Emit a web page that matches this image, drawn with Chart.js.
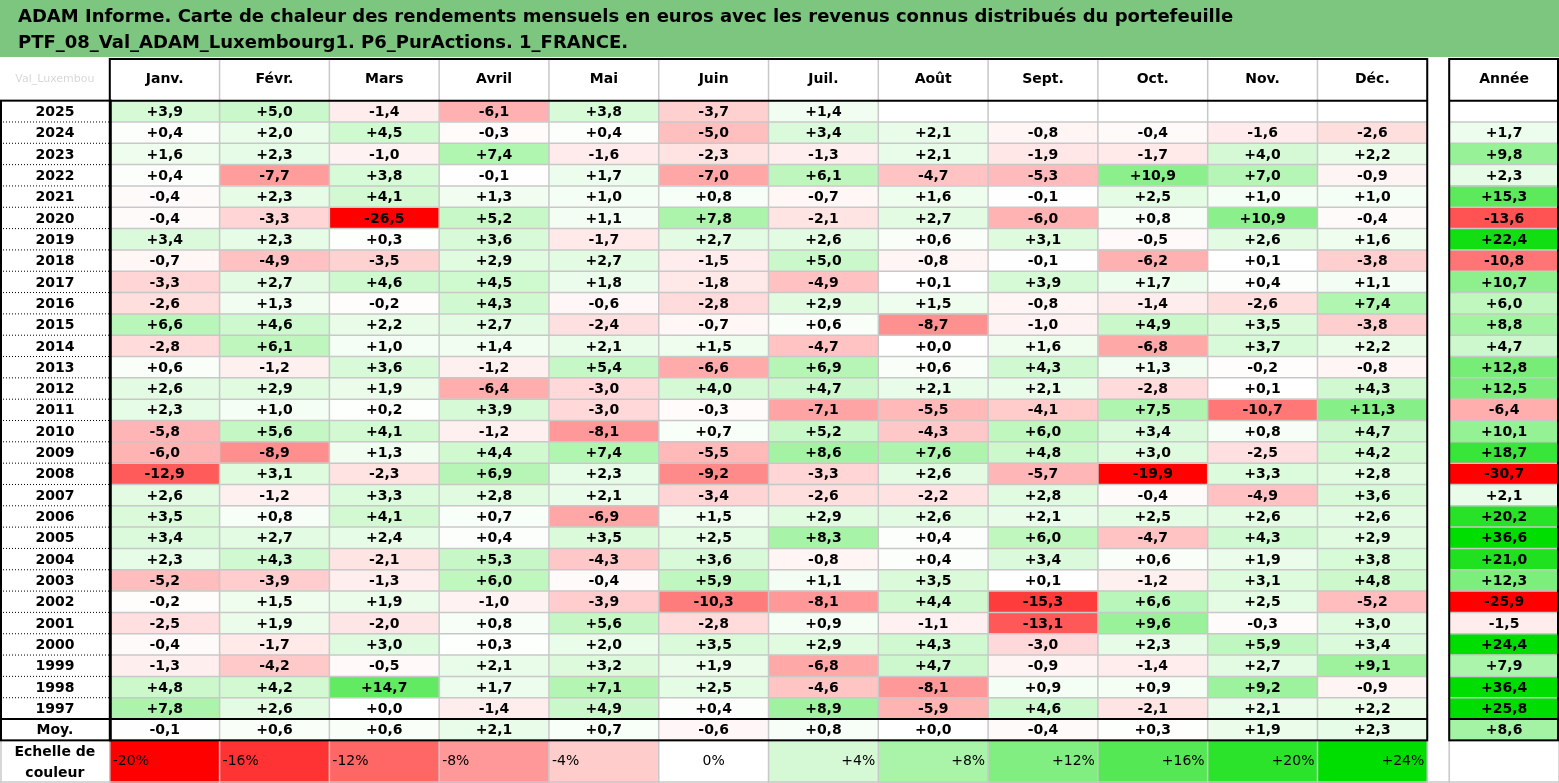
<!DOCTYPE html>
<html>
<head>
<meta charset="utf-8">
<script src="https://cdn.jsdelivr.net/npm/chart.js@4"></script>
<style>
  html, body { margin: 0; padding: 0; background: #fff; }
  #wrap { width: 1559px; height: 783px; position: relative; }
</style>
</head>
<body>
<div id="wrap"><canvas id="heat"></canvas></div>
<script>
const titleLines = [
  "ADAM Informe. Carte de chaleur des rendements mensuels en euros avec les revenus connus distribués du portefeuille",
  "PTF_08_Val_ADAM_Luxembourg1. P6_PurActions. 1_FRANCE."
];
const months = ["Janv.", "Févr.", "Mars", "Avril", "Mai", "Juin", "Juil.", "Août", "Sept.", "Oct.", "Nov.", "Déc."];
const years = ["2025","2024","2023","2022","2021","2020","2019","2018","2017","2016","2015","2014","2013","2012",
  "2011","2010","2009","2008","2007","2006","2005","2004","2003","2002","2001","2000","1999","1998","1997"];
const monthly = [
  [3.9, 5.0, -1.4, -6.1, 3.8, -3.7, 1.4, null, null, null, null, null],
  [0.4, 2.0, 4.5, -0.3, 0.4, -5.0, 3.4, 2.1, -0.8, -0.4, -1.6, -2.6],
  [1.6, 2.3, -1.0, 7.4, -1.6, -2.3, -1.3, 2.1, -1.9, -1.7, 4.0, 2.2],
  [0.4, -7.7, 3.8, -0.1, 1.7, -7.0, 6.1, -4.7, -5.3, 10.9, 7.0, -0.9],
  [-0.4, 2.3, 4.1, 1.3, 1.0, 0.8, -0.7, 1.6, -0.1, 2.5, 1.0, 1.0],
  [-0.4, -3.3, -26.5, 5.2, 1.1, 7.8, -2.1, 2.7, -6.0, 0.8, 10.9, -0.4],
  [3.4, 2.3, 0.3, 3.6, -1.7, 2.7, 2.6, 0.6, 3.1, -0.5, 2.6, 1.6],
  [-0.7, -4.9, -3.5, 2.9, 2.7, -1.5, 5.0, -0.8, -0.1, -6.2, 0.1, -3.8],
  [-3.3, 2.7, 4.6, 4.5, 1.8, -1.8, -4.9, 0.1, 3.9, 1.7, 0.4, 1.1],
  [-2.6, 1.3, -0.2, 4.3, -0.6, -2.8, 2.9, 1.5, -0.8, -1.4, -2.6, 7.4],
  [6.6, 4.6, 2.2, 2.7, -2.4, -0.7, 0.6, -8.7, -1.0, 4.9, 3.5, -3.8],
  [-2.8, 6.1, 1.0, 1.4, 2.1, 1.5, -4.7, 0.0, 1.6, -6.8, 3.7, 2.2],
  [0.6, -1.2, 3.6, -1.2, 5.4, -6.6, 6.9, 0.6, 4.3, 1.3, -0.2, -0.8],
  [2.6, 2.9, 1.9, -6.4, -3.0, 4.0, 4.7, 2.1, 2.1, -2.8, 0.1, 4.3],
  [2.3, 1.0, 0.2, 3.9, -3.0, -0.3, -7.1, -5.5, -4.1, 7.5, -10.7, 11.3],
  [-5.8, 5.6, 4.1, -1.2, -8.1, 0.7, 5.2, -4.3, 6.0, 3.4, 0.8, 4.7],
  [-6.0, -8.9, 1.3, 4.4, 7.4, -5.5, 8.6, 7.6, 4.8, 3.0, -2.5, 4.2],
  [-12.9, 3.1, -2.3, 6.9, 2.3, -9.2, -3.3, 2.6, -5.7, -19.9, 3.3, 2.8],
  [2.6, -1.2, 3.3, 2.8, 2.1, -3.4, -2.6, -2.2, 2.8, -0.4, -4.9, 3.6],
  [3.5, 0.8, 4.1, 0.7, -6.9, 1.5, 2.9, 2.6, 2.1, 2.5, 2.6, 2.6],
  [3.4, 2.7, 2.4, 0.4, 3.5, 2.5, 8.3, 0.4, 6.0, -4.7, 4.3, 2.9],
  [2.3, 4.3, -2.1, 5.3, -4.3, 3.6, -0.8, 0.4, 3.4, 0.6, 1.9, 3.8],
  [-5.2, -3.9, -1.3, 6.0, -0.4, 5.9, 1.1, 3.5, 0.1, -1.2, 3.1, 4.8],
  [-0.2, 1.5, 1.9, -1.0, -3.9, -10.3, -8.1, 4.4, -15.3, 6.6, 2.5, -5.2],
  [-2.5, 1.9, -2.0, 0.8, 5.6, -2.8, 0.9, -1.1, -13.1, 9.6, -0.3, 3.0],
  [-0.4, -1.7, 3.0, 0.3, 2.0, 3.5, 2.9, 4.3, -3.0, 2.3, 5.9, 3.4],
  [-1.3, -4.2, -0.5, 2.1, 3.2, 1.9, -6.8, 4.7, -0.9, -1.4, 2.7, 9.1],
  [4.8, 4.2, 14.7, 1.7, 7.1, 2.5, -4.6, -8.1, 0.9, 0.9, 9.2, -0.9],
  [7.8, 2.6, 0.0, -1.4, 4.9, 0.4, 8.9, -5.9, 4.6, -2.1, 2.1, 2.2]
];
const yearly = [null, 1.7, 9.8, 2.3, 15.3, -13.6, 22.4, -10.8, 10.7, 6.0, 8.8, 4.7, 12.8, 12.5, -6.4, 10.1,
  18.7, -30.7, 2.1, 20.2, 36.6, 21.0, 12.3, -25.9, -1.5, 24.4, 7.9, 36.4, 25.8];
const averages = [-0.1, 0.6, 0.6, 2.1, 0.7, -0.6, 0.8, 0.0, -0.4, 0.3, 1.9, 2.3];
const averageYear = 8.6;
const scaleSteps = [-20, -16, -12, -8, -4, 0, 4, 8, 12, 16, 20, 24];

function heatColor(v) {
  if (v === null) return '#ffffff';
  if (v < 0) {
    const t = Math.min(-v / 20, 1);
    const c = Math.round(255 * (1 - t));
    return `rgb(255,${c},${c})`;
  }
  const t = Math.min(v / 24, 1);
  const rb = Math.round(255 * (1 - t));
  const g = Math.round(255 - 34 * t);
  return `rgb(${rb},${g},${rb})`;
}
function fmt(v) {
  if (v === null) return '';
  return (v < 0 ? '-' : '+') + Math.abs(v).toFixed(1).replace('.', ',');
}

// column positions in x units: label column -1..0, months 0..12, gap, Année 12.2..13.2
const YEAR_COL = 12.2;
const allRows = monthly.concat([averages]);
const allTotals = yearly.concat([averageYear]);
const datasets = [];
for (let m = 0; m <= 12; m++) {
  const x0 = m < 12 ? m : YEAR_COL;
  const pts = [], cols = [], labels = [];
  allRows.forEach((row, i) => {
    const v = m < 12 ? row[m] : allTotals[i];
    pts.push({ y: 2.5 + i, x: [x0, x0 + 1] });
    cols.push(heatColor(v));
    labels.push(fmt(v));
  });
  datasets.push({ label: m < 12 ? months[m] : 'Année', data: pts, backgroundColor: cols, cellText: labels,
    borderWidth: 0, grouped: false, barPercentage: 1, categoryPercentage: 1 });
}
// colour scale row (two unit rows tall)
{
  const pts = [], cols = [], labels = [];
  scaleSteps.forEach((s, i) => {
    [32.5, 33.5].forEach(y => {
      pts.push({ y: y, x: [i, i + 1] });
      cols.push(heatColor(s));
      labels.push(y === 32.5 ? (s > 0 ? '+' : '') + s + '%' : '');
    });
  });
  datasets.push({ label: 'Echelle', data: pts, backgroundColor: cols, cellText: labels, isScale: true,
    borderWidth: 0, grouped: false, barPercentage: 1, categoryPercentage: 1 });
}

const FONT = "'DejaVu Sans', Verdana, sans-serif";
const tablePlugin = {
  id: 'table',
  beforeDraw(chart) {
    const c = chart.ctx;
    c.save();
    c.fillStyle = '#7dc67f';
    c.fillRect(0, 0, chart.width, 57);
    c.fillStyle = '#000';
    c.font = "bold 18px " + FONT;
    c.textBaseline = 'middle';
    c.fillText(titleLines[0], 18, 17);
    c.fillText(titleLines[1], 18, 43);
    c.restore();
  },
  afterDatasetsDraw(chart) {
    const c = chart.ctx, xs = chart.scales.x, ys = chart.scales.y;
    const X = v => xs.getPixelForValue(v), Y = v => ys.getPixelForValue(v);
    c.save();
    // light grid
    c.strokeStyle = '#c8c8c8';
    c.lineWidth = 1.5;
    const blocks = [[0, 12], [YEAR_COL, YEAR_COL + 1]];
    blocks.forEach(([a, b]) => {
      for (let x = a; x <= b + 0.001; x++) { c.beginPath(); c.moveTo(X(x), Y(0)); c.lineTo(X(x), Y(34)); c.stroke(); }
      for (let r = 3; r <= 32; r++) { c.beginPath(); c.moveTo(X(a), Y(r)); c.lineTo(X(b), Y(r)); c.stroke(); }
    });
    c.beginPath(); c.moveTo(X(-1), Y(34) - 1); c.lineTo(X(13.2), Y(34) - 1); c.stroke();
    c.beginPath(); c.moveTo(X(-1) + 1, Y(32)); c.lineTo(X(-1) + 1, Y(34)); c.stroke();
    // dotted separators in label column
    c.strokeStyle = '#000';
    c.lineWidth = 1;
    c.setLineDash([1, 2]);
    for (let r = 3; r <= 30; r++) { c.beginPath(); c.moveTo(X(-1), Y(r)); c.lineTo(X(0), Y(r)); c.stroke(); }
    c.setLineDash([]);
    // black frames
    c.lineWidth = 2;
    c.strokeRect(X(0), Y(0) + 1, X(12) - X(0), Y(32) - Y(0) - 1);
    c.strokeRect(X(-1) + 1, Y(2), X(0) - X(-1), Y(32) - Y(2));
    c.strokeRect(X(YEAR_COL), Y(0) + 1, X(YEAR_COL + 1) - X(YEAR_COL) - 1, Y(32) - Y(0) - 1);
    [2, 31].forEach(r => {
      c.beginPath(); c.moveTo(X(0), Y(r)); c.lineTo(X(12), Y(r)); c.stroke();
      c.beginPath(); c.moveTo(X(YEAR_COL), Y(r)); c.lineTo(X(YEAR_COL + 1), Y(r)); c.stroke();
    });
    c.beginPath(); c.moveTo(X(-1), Y(31)); c.lineTo(X(0), Y(31)); c.stroke();

    // text
    c.textBaseline = 'middle';
    c.textAlign = 'center';
    c.fillStyle = '#000';
    c.font = "bold 14px " + FONT;
    months.concat(['Année']).forEach((m, i) => {
      const x0 = i < 12 ? i : YEAR_COL;
      c.fillText(m, X(x0 + 0.5), Y(1));
    });
    years.concat(['Moy.']).forEach((y, i) => c.fillText(y, X(-0.5), Y(2.5 + i) + 1));
    c.fillText('Echelle de', X(-0.5), Y(32.5) + 1);
    c.fillText('couleur', X(-0.5), Y(33.5) + 1);
    c.fillStyle = '#d8d8d8';
    c.font = "11px " + FONT;
    c.fillText('Val_Luxembou', X(-0.5), Y(1));

    chart.data.datasets.forEach((ds, di) => {
      const meta = chart.getDatasetMeta(di);
      meta.data.forEach((bar, j) => {
        const t = ds.cellText[j];
        if (!t) return;
        c.fillStyle = '#000';
        if (ds.isScale) {
          const s = scaleSteps[Math.floor(j / 2)];
          c.font = "14px " + FONT;
          const left = Math.min(bar.x, bar.base), right = Math.max(bar.x, bar.base);
          const cy = Y(33);
          if (s < 0) { c.textAlign = 'left'; c.fillText(t, left + 3, cy); }
          else if (s === 0) { c.textAlign = 'center'; c.fillText(t, (left + right) / 2, cy); }
          else { c.textAlign = 'right'; c.fillText(t, right - 3, cy); }
        } else {
          c.textAlign = 'center';
          c.font = "bold 14px " + FONT;
          c.fillText(t, (bar.x + bar.base) / 2, bar.y + 1);
        }
      });
    });
    c.restore();
  }
};

new Chart(document.getElementById('heat'), {
  type: 'bar',
  data: { datasets: datasets },
  plugins: [tablePlugin],
  options: {
    indexAxis: 'y',
    responsive: true,
    maintainAspectRatio: false,
    animation: false,
    layout: { padding: { top: 58, left: 0, right: 0, bottom: 0 } },
    scales: {
      x: { type: 'linear', min: -1, max: 13.2, display: false, offset: false },
      y: { type: 'linear', min: 0, max: 34, reverse: true, display: false, offset: false }
    },
    plugins: { legend: { display: false }, tooltip: { enabled: false }, title: { display: false } }
  }
});
</script>
</body>
</html>
